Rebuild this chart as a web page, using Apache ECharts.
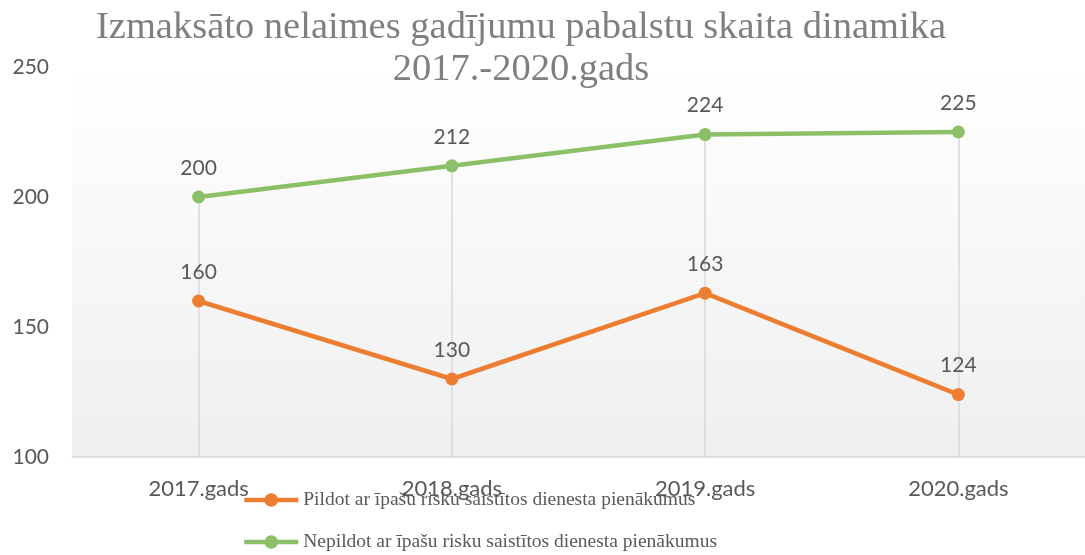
<!DOCTYPE html>
<html><head><meta charset="utf-8">
<script src="https://cdn.jsdelivr.net/npm/echarts@6/dist/echarts.min.js"></script>
<style>html,body{margin:0;padding:0;background:#fff}#c{width:1085px;height:555px}</style>
</head><body><div id="c"></div>
<script>
const categories = ['2017.gads','2018.gads','2019.gads','2020.gads'];
const seriesNames = ['Pildot ar īpašu risku saistītos dienesta pienākumus','Nepildot ar īpašu risku saistītos dienesta pienākumus'];
const pildot = [160,130,163,124];
const nepildot = [200,212,224,225];
const yTicks = [100,150,200,250];

const chart = echarts.init(document.getElementById('c'));
const lbl = {show:true, position:'top', distance:12, fontFamily:'Lato', fontSize:21, color:'#595959'};
const dropLines = categories.map((c,i)=>[{coord:[i, Math.max(pildot[i],nepildot[i])]},{coord:[i, yTicks[0]]}]);
const legendBase = {orient:'horizontal', left:242, padding:0, itemWidth:54, itemHeight:17, itemGap:10,
    lineStyle:{width:4.5},
    textStyle:{fontFamily:'Liberation Serif', fontSize:19.5, color:'#595959'}};
chart.setOption({
  animation:false,
  title:{text:'Izmaksāto nelaimes gadījumu pabalstu skaita dinamika\n2017.-2020.gads', left:516, textAlign:'center', top:2,
    textStyle:{fontFamily:'Liberation Serif', fontWeight:'normal', fontSize:38.5, color:'#7f7f7f', lineHeight:42}},
  grid:{left:72, top:67, width:1018, height:390, show:true, borderWidth:0,
    backgroundColor:{type:'linear',x:0,y:0,x2:0,y2:1,colorStops:[{offset:0,color:'#ffffff'},{offset:1,color:'#efefef'}]}},
  legend:[
    Object.assign({}, legendBase, {top:490, data:[seriesNames[0]]}),
    Object.assign({}, legendBase, {top:532, data:[seriesNames[1]]})
  ],
  xAxis:{type:'category', data:categories, boundaryGap:true,
    axisLine:{lineStyle:{color:'#d9d9d9', width:1.5}}, axisTick:{show:false},
    axisLabel:{fontFamily:'Lato', fontSize:22, color:'#595959', margin:21}},
  yAxis:{type:'value', min:100, max:250, interval:50,
    axisLine:{show:false}, axisTick:{show:false}, splitLine:{show:false},
    axisLabel:{fontFamily:'Lato', fontSize:21, color:'#595959', margin:23}},
  series:[
    {name:seriesNames[0], type:'line', data:pildot, color:'#ed7d31', symbol:'circle', symbolSize:13,
      lineStyle:{width:4.5}, label:lbl, z:3},
    {name:seriesNames[1], type:'line', data:nepildot, color:'#8cc068', symbol:'circle', symbolSize:13,
      lineStyle:{width:4.5}, label:lbl, z:3,
      markLine:{silent:true, symbol:['none','none'], label:{show:false}, lineStyle:{color:'#d9d9d9', type:'solid', width:1.5}, z:1, data:dropLines}}
  ]
});
</script></body></html>
